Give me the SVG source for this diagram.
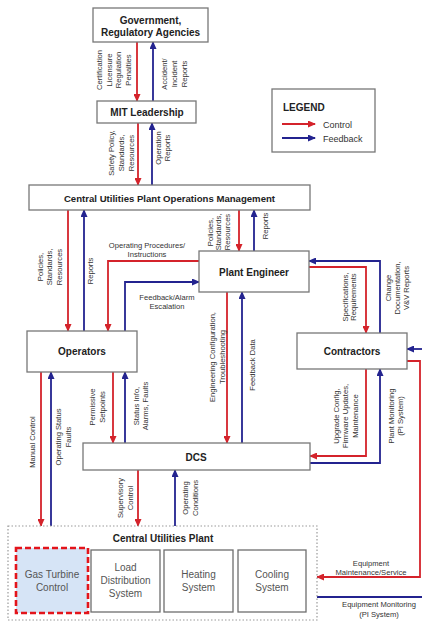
<svg xmlns="http://www.w3.org/2000/svg" width="422" height="622" viewBox="0 0 422 622">
  <defs>
    <style>
      .box { fill: #ffffff; stroke: #777777; stroke-width: 1.3; }
      .sub { fill: #ffffff; stroke: #6e6e6e; stroke-width: 1.3; }
      .ttl { font-family: "Liberation Sans", Arial, sans-serif; font-weight: bold; font-size: 10px; fill: #222222; text-anchor: middle; }
      .sys { font-family: "Liberation Sans", Arial, sans-serif; font-size: 10px; fill: #555555; text-anchor: middle; }
      .lbl { font-family: "Liberation Sans", Arial, sans-serif; font-size: 7.6px; fill: #333333; text-anchor: middle; }
      .leg { font-family: "Liberation Sans", Arial, sans-serif; font-size: 9px; fill: #333333; }
      .ctl { fill: none; stroke: #d4232b; stroke-width: 1.8; marker-end: url(#headRed); }
      .fbk { fill: none; stroke: #23238f; stroke-width: 1.8; marker-end: url(#headBlue); }
      .fbk-open { fill: none; stroke: #23238f; stroke-width: 1.8; }
    </style>
    <marker id="headRed" markerUnits="userSpaceOnUse" markerWidth="8" markerHeight="7" refX="7" refY="3.5" orient="auto">
      <path d="M0,0 L8,3.5 L0,7 z" fill="#d4232b"/>
    </marker>
    <marker id="headBlue" markerUnits="userSpaceOnUse" markerWidth="8" markerHeight="7" refX="7" refY="3.5" orient="auto">
      <path d="M0,0 L8,3.5 L0,7 z" fill="#23238f"/>
    </marker>
  </defs>

  <rect width="422" height="622" fill="#ffffff"/>

  <!-- Connectors -->
  <g id="connectors">
    <!-- Government / MIT Leadership -->
    <line class="ctl" x1="137" y1="42" x2="137" y2="101"/>
    <line class="fbk" x1="153" y1="101" x2="153" y2="42"/>
    <!-- MIT Leadership / Operations Management -->
    <line class="ctl" x1="138" y1="123" x2="138" y2="185"/>
    <line class="fbk" x1="152" y1="185" x2="152" y2="123"/>
    <!-- Operations Management / Operators -->
    <line class="ctl" x1="68" y1="210" x2="68" y2="331"/>
    <line class="fbk" x1="84" y1="331" x2="84" y2="210"/>
    <!-- Plant Engineer / Operators -->
    <path class="ctl" d="M199,261 H108 V331"/>
    <path class="fbk" d="M125,331 V282 H199"/>
    <!-- Operations Management / Plant Engineer -->
    <line class="ctl" x1="239" y1="210" x2="239" y2="251"/>
    <line class="fbk" x1="254" y1="251" x2="254" y2="210"/>
    <!-- Plant Engineer / Contractors -->
    <path class="ctl" d="M309,267 H366 V333"/>
    <path class="fbk" d="M380,333 V261 H309"/>
    <!-- Plant Engineer / DCS -->
    <line class="ctl" x1="227" y1="292" x2="227" y2="443"/>
    <line class="fbk" x1="242" y1="443" x2="242" y2="292"/>
    <!-- Operators / DCS -->
    <line class="ctl" x1="113" y1="372" x2="113" y2="443"/>
    <line class="fbk" x1="125" y1="443" x2="125" y2="372"/>
    <!-- Operators / Central Utilities Plant -->
    <line class="ctl" x1="41" y1="372" x2="41" y2="526"/>
    <line class="fbk" x1="51" y1="526" x2="51" y2="372"/>
    <!-- DCS / Central Utilities Plant -->
    <line class="ctl" x1="138" y1="470" x2="138" y2="526"/>
    <line class="fbk" x1="175" y1="526" x2="175" y2="470"/>
    <!-- Contractors / DCS -->
    <path class="ctl" d="M366,369 V456 H310"/>
    <path class="fbk" d="M310,463 H380 V369"/>
    <!-- Contractors / Central Utilities Plant -->
    <path class="ctl" d="M407,361 H420 V577 H317"/>
    <line class="fbk" x1="423" y1="349" x2="407" y2="349"/>
    <line class="fbk-open" x1="317" y1="597" x2="423" y2="597"/>
  </g>

  <!-- Connector labels -->
  <g id="labels">
    <text class="lbl" transform="translate(102,70) rotate(-90)"><tspan x="0" dy="0">Certification</tspan><tspan x="0" dy="9.7">Licensure</tspan><tspan x="0" dy="9.7">Regulation</tspan><tspan x="0" dy="9.7">Penalties</tspan></text>
    <text class="lbl" transform="translate(166.7,74) rotate(-90)"><tspan x="0" dy="0">Accident/</tspan><tspan x="0" dy="10">Incident</tspan><tspan x="0" dy="10">Reports</tspan></text>
    <text class="lbl" transform="translate(113.7,153) rotate(-90)"><tspan x="0" dy="0">Safety Policy,</tspan><tspan x="0" dy="10.3">Standards,</tspan><tspan x="0" dy="10.3">Resources</tspan></text>
    <text class="lbl" transform="translate(160.7,148) rotate(-90)"><tspan x="0" dy="0">Operation</tspan><tspan x="0" dy="9">Reports</tspan></text>
    <text class="lbl" transform="translate(42.7,267) rotate(-90)"><tspan x="0" dy="0">Policies,</tspan><tspan x="0" dy="9.5">Standards,</tspan><tspan x="0" dy="9.5">Resources</tspan></text>
    <text class="lbl" transform="translate(92.7,271) rotate(-90)">Reports</text>
    <text class="lbl" x="147" y="248"><tspan x="147" dy="0">Operating Procedures/</tspan><tspan x="147" dy="9">Instructions</tspan></text>
    <text class="lbl" x="167" y="300"><tspan x="167" dy="0">Feedback/Alarm</tspan><tspan x="167" dy="9">Escalation</tspan></text>
    <text class="lbl" transform="translate(212.7,232) rotate(-90)"><tspan x="0" dy="0">Policies,</tspan><tspan x="0" dy="8.5">Standards,</tspan><tspan x="0" dy="8.5">Resources</tspan></text>
    <text class="lbl" transform="translate(267.7,226) rotate(-90)">Reports</text>
    <text class="lbl" transform="translate(347.7,297) rotate(-90)"><tspan x="0" dy="0">Specifications,</tspan><tspan x="0" dy="8.5">Requirements</tspan></text>
    <text class="lbl" transform="translate(390.7,288) rotate(-90)"><tspan x="0" dy="0">Change</tspan><tspan x="0" dy="9">Documentation,</tspan><tspan x="0" dy="9">V&amp;V Reports</tspan></text>
    <text class="lbl" transform="translate(214.7,357) rotate(-90)"><tspan x="0" dy="0">Engineering Configuration,</tspan><tspan x="0" dy="10">Troubleshooting</tspan></text>
    <text class="lbl" transform="translate(254.7,365) rotate(-90)">Feedback Data</text>
    <text class="lbl" transform="translate(94.7,407) rotate(-90)"><tspan x="0" dy="0">Permissive</tspan><tspan x="0" dy="10">Setpoints</tspan></text>
    <text class="lbl" transform="translate(138.7,406) rotate(-90)"><tspan x="0" dy="0">Status Info,</tspan><tspan x="0" dy="9">Alarms, Faults</tspan></text>
    <text class="lbl" transform="translate(34.7,442) rotate(-90)">Manual Control</text>
    <text class="lbl" transform="translate(60.7,437) rotate(-90)"><tspan x="0" dy="0">Operating Status</tspan><tspan x="0" dy="10">Faults</tspan></text>
    <text class="lbl" transform="translate(122.7,498) rotate(-90)"><tspan x="0" dy="0">Supervisory</tspan><tspan x="0" dy="10">Control</tspan></text>
    <text class="lbl" transform="translate(187.7,498) rotate(-90)"><tspan x="0" dy="0">Operating</tspan><tspan x="0" dy="10">Conditions</tspan></text>
    <text class="lbl" transform="translate(338.7,416) rotate(-90)"><tspan x="0" dy="0">Upgrade Config,</tspan><tspan x="0" dy="9.5">Firmware Updates,</tspan><tspan x="0" dy="9.5">Maintenance</tspan></text>
    <text class="lbl" transform="translate(393.7,416) rotate(-90)"><tspan x="0" dy="0">Plant Monitoring</tspan><tspan x="0" dy="9">(PI System)</tspan></text>
    <text class="lbl" x="371" y="566"><tspan x="371" dy="0">Equipment</tspan><tspan x="371" dy="9">Maintenance/Service</tspan></text>
    <text class="lbl" x="379" y="607"><tspan x="379" dy="0">Equipment Monitoring</tspan><tspan x="379" dy="10">(PI System)</tspan></text>
  </g>

  <!-- Nodes -->
  <g id="government">
    <rect class="box" x="93" y="8" width="115" height="34"/>
    <text class="ttl" x="150.5" y="23.5">Government,</text>
    <text class="ttl" x="150.5" y="36">Regulatory Agencies</text>
  </g>
  <g id="mit-leadership">
    <rect class="box" x="97" y="101" width="99" height="22"/>
    <text class="ttl" x="147" y="116">MIT Leadership</text>
  </g>
  <g id="legend">
    <rect class="box" x="272" y="89" width="103" height="63"/>
    <text class="ttl" x="283" y="111" style="text-anchor:start">LEGEND</text>
    <line class="ctl" x1="282" y1="124" x2="315" y2="124"/>
    <text class="leg" x="323" y="127.5">Control</text>
    <line class="fbk" x1="282" y1="138" x2="315" y2="138"/>
    <text class="leg" x="323" y="141.5">Feedback</text>
  </g>
  <g id="operations-management">
    <rect class="box" x="29" y="185" width="281" height="25"/>
    <text class="ttl" x="169.5" y="201.5" style="font-size:9.6px">Central Utilities Plant Operations Management</text>
  </g>
  <g id="plant-engineer">
    <rect class="box" x="199" y="251" width="110" height="41"/>
    <text class="ttl" x="254" y="275.5">Plant Engineer</text>
  </g>
  <g id="operators">
    <rect class="box" x="27" y="331" width="110" height="41"/>
    <text class="ttl" x="82" y="355">Operators</text>
  </g>
  <g id="contractors">
    <rect class="box" x="297" y="333" width="110" height="36"/>
    <text class="ttl" x="352" y="355">Contractors</text>
  </g>
  <g id="dcs">
    <rect class="box" x="83" y="443" width="227" height="27"/>
    <text class="ttl" x="196" y="460.5">DCS</text>
  </g>
  <g id="central-utilities-plant">
    <rect x="8" y="526" width="309" height="94" fill="#ffffff" stroke="#9a9a9a" stroke-width="1.2" stroke-dasharray="1.5 2"/>
    <text class="ttl" x="163" y="542">Central Utilities Plant</text>
  </g>
  <g id="gas-turbine-control">
    <rect x="16" y="548" width="72" height="65" fill="#d6e4f6" stroke="#e3141b" stroke-width="2.6" stroke-dasharray="6 3"/>
    <text class="sys" x="52" y="578">Gas Turbine</text>
    <text class="sys" x="52" y="591">Control</text>
  </g>
  <g id="load-distribution-system">
    <rect class="sub" x="91" y="550" width="69" height="62"/>
    <text class="sys" x="125.5" y="571">Load</text>
    <text class="sys" x="125.5" y="584">Distribution</text>
    <text class="sys" x="125.5" y="597">System</text>
  </g>
  <g id="heating-system">
    <rect class="sub" x="164" y="550" width="69" height="62"/>
    <text class="sys" x="198.5" y="578">Heating</text>
    <text class="sys" x="198.5" y="591">System</text>
  </g>
  <g id="cooling-system">
    <rect class="sub" x="238" y="550" width="68" height="62"/>
    <text class="sys" x="272" y="578">Cooling</text>
    <text class="sys" x="272" y="591">System</text>
  </g>
</svg>
